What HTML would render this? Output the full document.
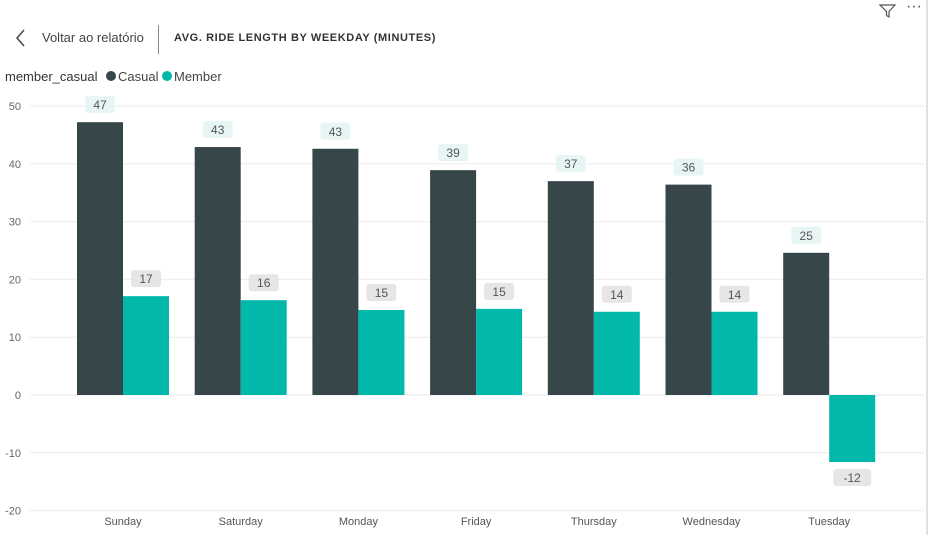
<!DOCTYPE html>
<html><head><meta charset="utf-8"><style>
body{margin:0;width:930px;height:535px;background:#fff;font-family:"Liberation Sans",sans-serif;overflow:hidden;position:relative}
.t{position:absolute;white-space:nowrap}
</style></head><body>
<div style="position:absolute;left:926px;top:0;width:2px;height:535px;background:#e0e0e0"></div>
<svg style="position:absolute;left:879px;top:3px" width="18" height="16"><path d="M1 2H16L10 8.5V14L7.5 12.5V8.5Z" fill="none" stroke="#555" stroke-width="1.2"/></svg>
<div class="t" style="left:906px;top:-2px;font-size:16px;color:#555">···</div>
<svg style="position:absolute;left:14px;top:28px" width="14" height="20"><path d="M10 2L3 10L10 18" fill="none" stroke="#444" stroke-width="1.5"/></svg>
<div class="t" style="left:42px;top:30px;font-size:13px;color:#444">Voltar ao relatório</div>
<div style="position:absolute;left:158px;top:25px;width:1px;height:29px;background:#888"></div>
<div class="t" style="left:174px;top:32px;font-size:11px;font-weight:bold;letter-spacing:0.6px;color:#333">AVG. RIDE LENGTH BY WEEKDAY (MINUTES)</div>
<div class="t" style="left:5px;top:69px;font-size:13px;color:#333">member_casual</div>
<div class="t" style="left:106px;top:69px;font-size:13px;color:#444"><span style="display:inline-block;width:10px;height:10px;border-radius:5px;background:#374649;margin-right:2px"></span>Casual</div>
<div class="t" style="left:162px;top:69px;font-size:13px;color:#444"><span style="display:inline-block;width:10px;height:10px;border-radius:5px;background:#01b8aa;margin-right:2px"></span>Member</div>
<svg id="chart" style="position:absolute;left:0;top:0" width="930" height="535"></svg>
<script>
const categories=["Sunday","Saturday","Monday","Friday","Thursday","Wednesday","Tuesday"];
const casual=[47.2,42.9,42.6,38.9,37.0,36.4,24.6];
const member=[17.1,16.4,14.7,14.9,14.4,14.4,-11.6];
const ticks=[50,40,30,20,10,0,-10,-20];
const svg=document.getElementById('chart');const NS='http://www.w3.org/2000/svg';
const y=v=>395-v*5.78;const cx=i=>123+i*117.7;const bw=46;
function mk(t,a){const e=document.createElementNS(NS,t);for(const k in a)e.setAttribute(k,a[k]);svg.appendChild(e);return e;}
ticks.forEach(t=>{const l=mk('line',{x1:30,x2:924,y1:y(t),y2:y(t),stroke:'#ebebeb','stroke-width':1});


const tx=mk('text',{x:21,y:y(t)+4,'text-anchor':'end','font-size':11,fill:'#666','font-family':'Liberation Sans'});tx.textContent=t;

});
function label(x,v,top,bg){const txt=Math.round(v).toString();const w=txt.length*8+14;
const r=mk('rect',{x:x-w/2,y:top,width:w,height:17,rx:3,fill:bg});


const t=mk('text',{x:x,y:top+13,'text-anchor':'middle','font-size':12,fill:'#555','font-family':'Liberation Sans'});t.textContent=txt;

}
categories.forEach((c,i)=>{const x=cx(i);
const a=casual[i];const r1=mk('rect',{x:x-bw,y:Math.min(y(a),y(0)),width:bw,height:Math.abs(y(a)-y(0)),fill:'#374649'});


const m=member[i];const r2=mk('rect',{x:x,y:Math.min(y(m),y(0)),width:bw,height:Math.abs(y(m)-y(0)),fill:'#01b8aa'});


label(x-bw/2,a,a>=0?y(a)-26:y(a)+7,'#e8f5f5');
label(x+bw/2,m,m>=0?y(m)-26:y(m)+7,'#e6e6e6');
const t=mk('text',{x:x,y:525,'text-anchor':'middle','font-size':11,fill:'#555','font-family':'Liberation Sans'});t.textContent=c;

});
</script>
</body></html>
